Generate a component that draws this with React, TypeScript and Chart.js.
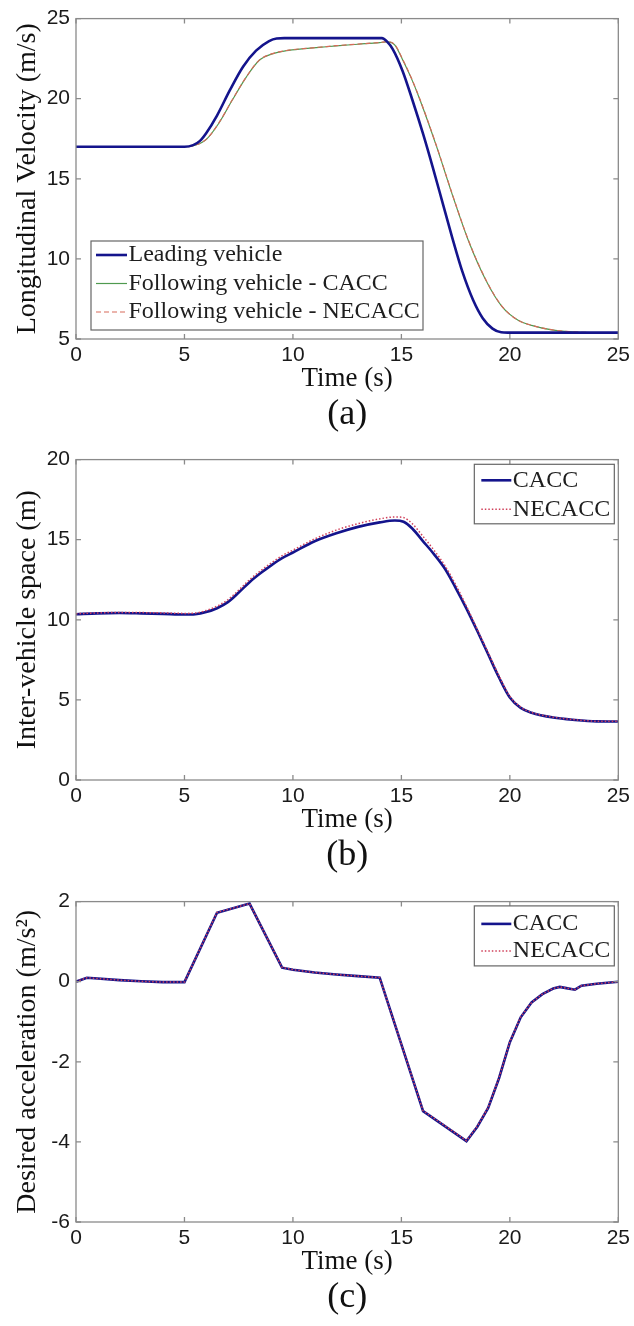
import React, { useEffect, useRef } from "react";
import { Chart, registerables } from "chart.js";

Chart.register(...registerables);

const SERIF = '"Liberation Serif", "Times New Roman", Times, serif';
const SANS = '"Liberation Sans", Arial, Helvetica, sans-serif';

// ---------- Panel (a): longitudinal velocity ----------
const tLead = [0, 5.0, 5.4, 5.7, 6.0, 6.5, 7.1, 7.7, 8.3, 8.9, 9.25, 9.6, 14.1, 14.35, 14.6, 15.05, 15.5, 16.0, 16.45, 16.9, 17.35, 17.8, 18.3, 18.75, 19.2, 19.6, 19.9, 25];
const vLead = [17.0, 17.0, 17.1, 17.35, 17.85, 18.95, 20.55, 22.0, 23.0, 23.6, 23.76, 23.78, 23.78, 23.55, 23.1, 21.75, 19.95, 17.8, 15.7, 13.5, 11.3, 9.25, 7.45, 6.3, 5.65, 5.42, 5.4, 5.4];
const tFollow = [0, 5.0, 5.5, 6.0, 6.6, 7.2, 7.85, 8.45, 9.05, 9.7, 10.5, 11.2, 12, 13, 14, 14.35, 14.7, 15.05, 15.45, 15.85, 16.6, 17.35, 18.1, 18.9, 19.65, 20.4, 21, 22, 23, 24, 25];
const vFollowCACC = [17.0, 17.0, 17.1, 17.45, 18.5, 19.9, 21.35, 22.4, 22.8, 23.0, 23.12, 23.2, 23.3, 23.4, 23.5, 23.55, 23.35, 22.45, 21.3, 19.95, 17.1, 14.0, 11.1, 8.65, 7.0, 6.15, 5.85, 5.55, 5.43, 5.4, 5.4];
const vFollowNECACC = [17.0, 17.0, 17.1, 17.46, 18.52, 19.92, 21.36, 22.41, 22.81, 23.01, 23.13, 23.21, 23.31, 23.41, 23.51, 23.56, 23.37, 22.48, 21.33, 19.98, 17.13, 14.03, 11.13, 8.68, 7.02, 6.16, 5.86, 5.56, 5.44, 5.4, 5.4];

// ---------- Panel (b): inter-vehicle space ----------
const tSpace = [0, 1, 2, 3, 4, 5, 5.5, 6, 6.5, 7, 7.5, 8, 8.5, 9, 9.5, 10, 11, 12, 13, 14, 14.7, 15.1, 15.5, 16, 16.5, 17, 17.5, 18, 18.5, 19, 19.5, 20, 20.5, 21, 22, 23, 24, 25];
const sCACC = [10.35, 10.4, 10.42, 10.4, 10.37, 10.33, 10.35, 10.48, 10.72, 11.1, 11.7, 12.35, 12.9, 13.4, 13.85, 14.2, 14.9, 15.4, 15.8, 16.08, 16.2, 16.12, 15.7, 14.9, 14.1, 13.2, 12.0, 10.7, 9.3, 7.85, 6.4, 5.15, 4.5, 4.2, 3.9, 3.75, 3.66, 3.65];
const sNECACC = [10.38, 10.43, 10.46, 10.45, 10.43, 10.4, 10.42, 10.58, 10.85, 11.25, 11.85, 12.5, 13.05, 13.55, 14.0, 14.35, 15.05, 15.6, 16.0, 16.3, 16.42, 16.38, 16.0, 15.2, 14.35, 13.4, 12.2, 10.85, 9.4, 7.95, 6.5, 5.22, 4.55, 4.22, 3.92, 3.76, 3.67, 3.66];

// ---------- Panel (c): desired acceleration ----------
const tAcc = [0, 0.5, 1, 2, 3, 4, 5, 6.5, 8, 9.5, 10, 11, 12, 13, 14, 16, 18, 18.5, 19, 19.5, 20, 20.5, 21, 21.5, 22, 22.3, 22.6, 23, 23.3, 24, 25];
const aCACC = [0.0, 0.1, 0.08, 0.04, 0.01, -0.01, -0.01, 1.72, 1.95, 0.35, 0.3, 0.23, 0.18, 0.14, 0.1, -3.23, -3.98, -3.62, -3.15, -2.41, -1.51, -0.89, -0.52, -0.31, -0.17, -0.13, -0.16, -0.2, -0.1, -0.05, 0.0];
const aNECACC = [0.0, 0.1, 0.08, 0.04, 0.01, -0.01, -0.01, 1.73, 1.95, 0.36, 0.3, 0.23, 0.18, 0.14, 0.1, -3.22, -3.97, -3.61, -3.14, -2.4, -1.5, -0.88, -0.52, -0.31, -0.17, -0.13, -0.16, -0.2, -0.1, -0.05, 0.0];

// ---------- Tick labels ----------
const xTicks = [0, 5, 10, 15, 20, 25];
const yTicksA = [5, 10, 15, 20, 25];
const yTicksB = [0, 5, 10, 15, 20];
const yTicksC = [-6, -4, -2, 0, 2];

const BLUE = "#14148c";

const pts = (t: number[], v: number[]) => t.map((x, i) => ({ x, y: v[i] }));

const boxPlugin = {
  id: "matlabBox",
  afterDatasetsDraw(chart: any) {
    const { ctx, chartArea: a, scales } = chart;
    ctx.save();
    ctx.strokeStyle = "#8a8a8a";
    ctx.lineWidth = 1.3;
    ctx.strokeRect(a.left, a.top, a.right - a.left, a.bottom - a.top);
    const L = 5;
    ctx.beginPath();
    scales.x.ticks.forEach((t: any) => {
      const px = scales.x.getPixelForValue(t.value);
      ctx.moveTo(px, a.bottom);
      ctx.lineTo(px, a.bottom - L);
      ctx.moveTo(px, a.top);
      ctx.lineTo(px, a.top + L);
    });
    scales.y.ticks.forEach((t: any) => {
      const py = scales.y.getPixelForValue(t.value);
      ctx.moveTo(a.left, py);
      ctx.lineTo(a.left + L, py);
      ctx.moveTo(a.right, py);
      ctx.lineTo(a.right - L, py);
    });
    ctx.stroke();
    ctx.restore();
  },
};

type LegendCfg = {
  corner: "bl" | "tr";
  dx: number;
  dy: number;
  w: number;
  h: number;
  rows: number[];
  sampleX: number;
  sampleLen: number;
  gap: number;
  items: number[];
};

function makeLegend(cfg: LegendCfg) {
  return {
    id: "boxLegend",
    afterDraw(chart: any) {
      const { ctx, chartArea: a } = chart;
      const left = cfg.corner === "bl" ? a.left + cfg.dx : a.right - cfg.dx - cfg.w;
      const top = cfg.corner === "bl" ? a.bottom - cfg.dy - cfg.h : a.top + cfg.dy;
      ctx.save();
      ctx.fillStyle = "#ffffff";
      ctx.fillRect(left, top, cfg.w, cfg.h);
      ctx.strokeStyle = "#666666";
      ctx.lineWidth = 1.2;
      ctx.strokeRect(left, top, cfg.w, cfg.h);
      ctx.font = `24px ${SERIF}`;
      ctx.textBaseline = "middle";
      ctx.textAlign = "left";
      cfg.items.forEach((idx, i) => {
        const ds = chart.data.datasets[idx];
        const y = top + cfg.rows[i];
        ctx.save();
        ctx.strokeStyle = ds.borderColor;
        ctx.lineWidth = ds.borderWidth;
        ctx.setLineDash(ds.borderDash || []);
        ctx.beginPath();
        ctx.moveTo(left + cfg.sampleX, y);
        ctx.lineTo(left + cfg.sampleX + cfg.sampleLen, y);
        ctx.stroke();
        ctx.restore();
        ctx.fillStyle = "#1e1e1e";
        ctx.fillText(ds.label, left + cfg.sampleX + cfg.sampleLen + cfg.gap, y);
      });
      ctx.restore();
    },
  };
}

type PanelDef = {
  datasets: any[];
  yMin: number;
  yMax: number;
  yTicks: number[];
  yTitle: string;
  caption: string;
  legend: LegendCfg;
};

function makeConfig(p: PanelDef): any {
  return {
    type: "line",
    data: { datasets: p.datasets },
    options: {
      animation: false,
      responsive: false,
      devicePixelRatio: 1,
      events: [],
      layout: { padding: { left: 0, right: 15, top: 15, bottom: 7 } },
      elements: { point: { radius: 0 } },
      plugins: {
        legend: { display: false },
        tooltip: { enabled: false },
        title: {
          display: true,
          text: p.caption,
          position: "bottom",
          fullSize: false,
          padding: 0,
          color: "#111111",
          font: { family: SERIF, size: 36, lineHeight: 1, weight: "normal" },
        },
      },
      scales: {
        x: {
          type: "linear",
          min: 0,
          max: 25,
          afterBuildTicks: (s: any) => {
            s.ticks = xTicks.map((v) => ({ value: v }));
          },
          afterFit: (s: any) => {
            s.height = 58;
          },
          grid: { display: false, drawTicks: false },
          border: { display: false },
          ticks: {
            padding: 4,
            color: "#1a1a1a",
            autoSkip: false,
            maxRotation: 0,
            font: { family: SANS, size: 21 },
            callback: (v: any) => String(v),
          },
          title: {
            display: true,
            text: "Time (s)",
            color: "#111111",
            font: { family: SERIF, size: 27 },
            padding: { top: 0, bottom: 2 },
          },
        },
        y: {
          type: "linear",
          min: p.yMin,
          max: p.yMax,
          afterBuildTicks: (s: any) => {
            s.ticks = p.yTicks.map((v) => ({ value: v }));
          },
          afterFit: (s: any) => {
            s.width = 76;
          },
          grid: { display: false, drawTicks: false },
          border: { display: false },
          ticks: {
            padding: 6,
            color: "#1a1a1a",
            autoSkip: false,
            font: { family: SANS, size: 21 },
            callback: (v: any) => String(v),
          },
          title: {
            display: true,
            text: p.yTitle,
            color: "#111111",
            font: { family: SERIF, size: 28 },
            padding: { top: 11, bottom: 0 },
          },
        },
      },
    },
    plugins: [boxPlugin, makeLegend(p.legend)],
  };
}

const panelA: PanelDef = {
  yMin: 5,
  yMax: 25,
  yTicks: yTicksA,
  yTitle: "Longitudinal Velocity (m/s)",
  caption: "(a)",
  datasets: [
    { label: "Leading vehicle", data: pts(tLead, vLead), borderColor: BLUE, borderWidth: 2.6, cubicInterpolationMode: "monotone", order: 0, fill: false },
    { label: "Following vehicle - CACC", data: pts(tFollow, vFollowCACC), borderColor: "#4f9a4f", borderWidth: 1.2, cubicInterpolationMode: "monotone", order: 2, fill: false },
    { label: "Following vehicle - NECACC", data: pts(tFollow, vFollowNECACC), borderColor: "#d86a5a", borderWidth: 1.2, borderDash: [5, 3], cubicInterpolationMode: "monotone", order: 1, fill: false },
  ],
  legend: { corner: "bl", dx: 15, dy: 9, w: 332, h: 89, rows: [14, 42.5, 71], sampleX: 5, sampleLen: 31, gap: 1.5, items: [0, 1, 2] },
};

const panelB: PanelDef = {
  yMin: 0,
  yMax: 20,
  yTicks: yTicksB,
  yTitle: "Inter-vehicle space (m)",
  caption: "(b)",
  datasets: [
    { label: "CACC", data: pts(tSpace, sCACC), borderColor: BLUE, borderWidth: 2.6, cubicInterpolationMode: "monotone", order: 1, fill: false },
    { label: "NECACC", data: pts(tSpace, sNECACC), borderColor: "#d0405a", borderWidth: 1.5, borderDash: [1.5, 2], cubicInterpolationMode: "monotone", order: 0, fill: false },
  ],
  legend: { corner: "tr", dx: 4, dy: 4.7, w: 140, h: 59.5, rows: [16, 45], sampleX: 7, sampleLen: 30, gap: 1.5, items: [0, 1] },
};

const panelC: PanelDef = {
  yMin: -6,
  yMax: 2,
  yTicks: yTicksC,
  yTitle: "Desired acceleration (m/s²)",
  caption: "(c)",
  datasets: [
    { label: "CACC", data: pts(tAcc, aCACC), borderColor: BLUE, borderWidth: 2.6, tension: 0, order: 1, fill: false },
    { label: "NECACC", data: pts(tAcc, aNECACC), borderColor: "#d0405a", borderWidth: 1.5, borderDash: [1.5, 2], tension: 0, order: 0, fill: false },
  ],
  legend: { corner: "tr", dx: 4, dy: 4.3, w: 140, h: 60, rows: [18, 45], sampleX: 7, sampleLen: 30, gap: 1.5, items: [0, 1] },
};

function Panel({ def, top }: { def: PanelDef; top: number }) {
  const ref = useRef<HTMLCanvasElement | null>(null);
  useEffect(() => {
    if (!ref.current) return;
    const chart = new Chart(ref.current, makeConfig(def));
    return () => chart.destroy();
  }, [def]);
  return (
    <canvas
      ref={ref}
      width={634}
      height={440}
      style={{ position: "absolute", left: 0, top, width: 634, height: 440 }}
    />
  );
}

export default function App() {
  return (
    <div style={{ position: "absolute", left: 0, top: 0, width: 634, height: 1326, background: "#ffffff" }}>
      <Panel def={panelA} top={0} />
      <Panel def={panelB} top={441} />
      <Panel def={panelC} top={883} />
    </div>
  );
}
